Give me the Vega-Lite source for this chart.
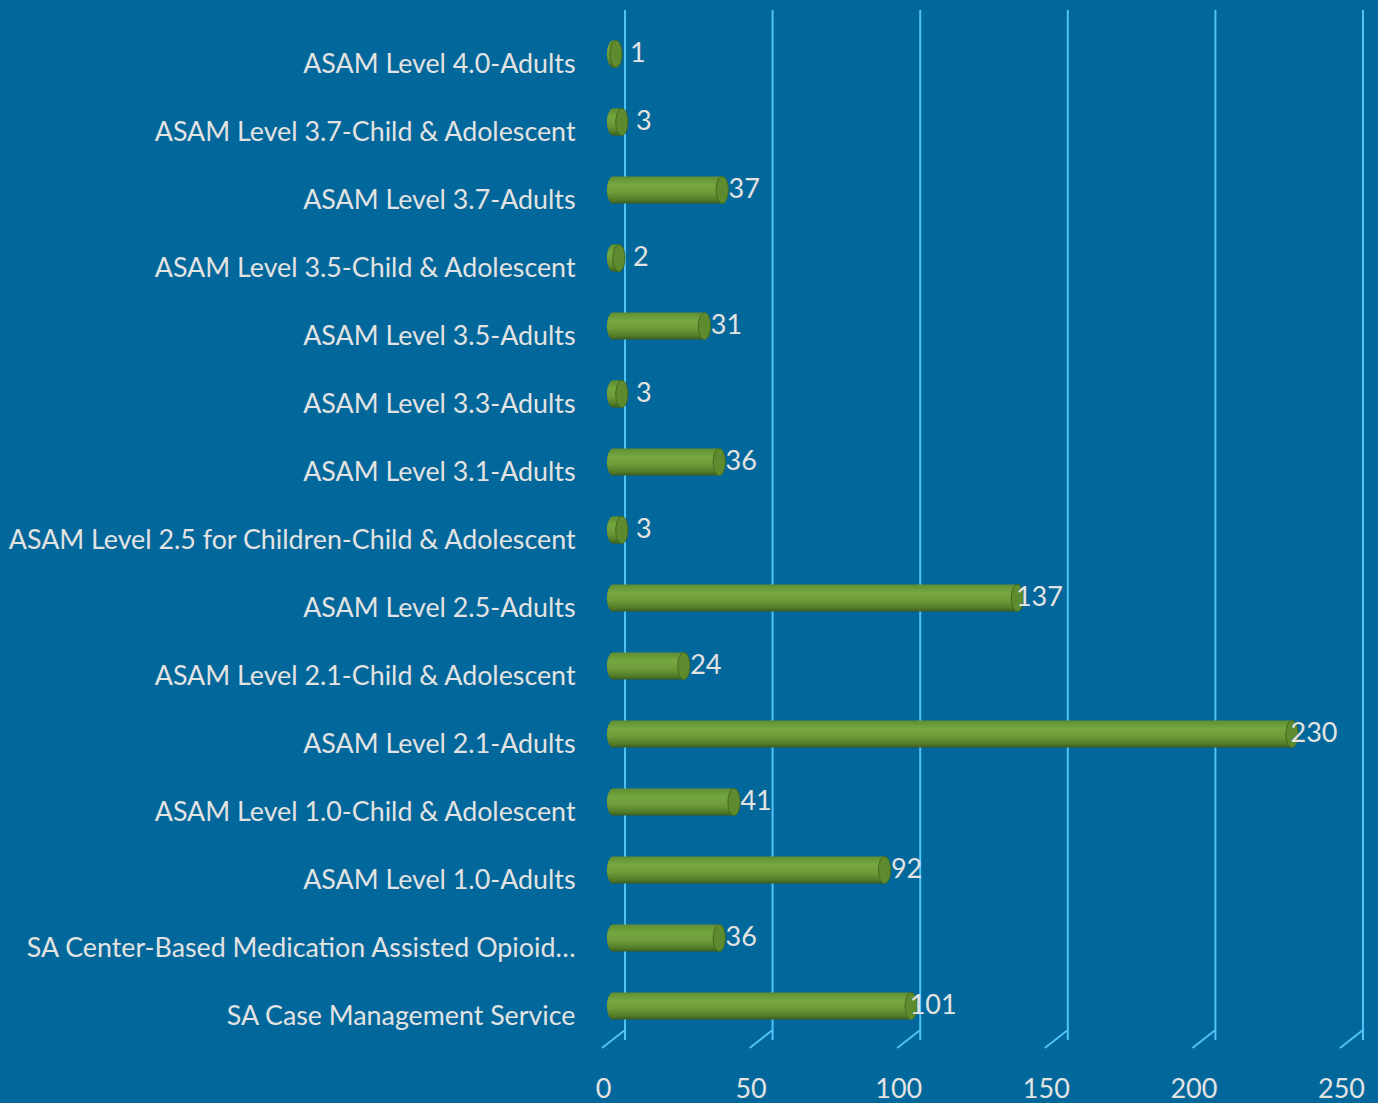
{
  "$schema": "https://vega.github.io/schema/vega-lite/v6.json",
  "autosize": "none",
  "width": 738,
  "height": 1020,
  "padding": {"left": 613, "top": 20, "right": 27, "bottom": 63},
  "background": "#02679a",
  "config": {
    "view": {"stroke": null},
    "font": "Lato"
  },
  "datasets": {
    "rows": [
      {"category": "ASAM Level 4.0-Adults", "value": 1},
      {"category": "ASAM Level 3.7-Child & Adolescent", "value": 3},
      {"category": "ASAM Level 3.7-Adults", "value": 37},
      {"category": "ASAM Level 3.5-Child & Adolescent", "value": 2},
      {"category": "ASAM Level 3.5-Adults", "value": 31},
      {"category": "ASAM Level 3.3-Adults", "value": 3},
      {"category": "ASAM Level 3.1-Adults", "value": 36},
      {"category": "ASAM Level 2.5 for Children-Child & Adolescent", "value": 3},
      {"category": "ASAM Level 2.5-Adults", "value": 137},
      {"category": "ASAM Level 2.1-Child & Adolescent", "value": 24},
      {"category": "ASAM Level 2.1-Adults", "value": 230},
      {"category": "ASAM Level 1.0-Child & Adolescent", "value": 41},
      {"category": "ASAM Level 1.0-Adults", "value": 92},
      {"category": "SA Center-Based Medication Assisted Opioid…", "value": 36},
      {"category": "SA Case Management Service", "value": 101}
    ],
    "ticks": [{"t": 0}, {"t": 50}, {"t": 100}, {"t": 150}, {"t": 200}, {"t": 250}]
  },
  "layer": [
    {
      "data": {"name": "ticks"},
      "mark": {"type": "rule", "color": "#4fc3f7", "strokeWidth": 2, "xOffset": 12, "yOffset": -10, "y2Offset": -10},
      "encoding": {
        "x": {"field": "t", "type": "quantitative", "scale": {"domain": [0, 250], "nice": false, "zero": true},
          "axis": {"values": [0, 50, 100, 150, 200, 250], "domain": false, "ticks": false, "grid": false, "title": null,
            "labelFont": "Lato", "labelFontSize": 27, "labelColor": "#e3e3e3", "labelPadding": 36, "labelOffset": -10, "labelFlush": false}}
      }
    },
    {
      "data": {"name": "ticks"},
      "mark": {"type": "rule", "color": "#4fc3f7", "strokeWidth": 2, "xOffset": 12, "x2Offset": -11, "yOffset": -10, "y2Offset": 8},
      "encoding": {
        "x": {"field": "t", "type": "quantitative"},
        "x2": {"field": "t"},
        "y": {"value": "height"},
        "y2": {"value": "height"}
      }
    },
    {
      "data": {"name": "rows"},
      "layer": [
        {
          "mark": {"type": "point", "filled": true, "opacity": 1, "size": 729,
            "shape": "M0,-1A0.45,1,0,1,1,0,1A0.45,1,0,1,1,0,-1Z",
            "fill": {"gradient": "linear", "x1": 0, "y1": 0, "x2": 0, "y2": 1,
              "stops": [{"offset": 0, "color": "#5f8d31"}, {"offset": 0.3, "color": "#76a641"}, {"offset": 0.6, "color": "#6d9b39"}, {"offset": 0.85, "color": "#557f2b"}, {"offset": 1, "color": "#3d5c1d"}]}},
          "encoding": {
            "x": {"datum": 0, "type": "quantitative"},
            "y": {"field": "category", "type": "nominal", "sort": null}
          }
        },
        {
          "mark": {"type": "bar",
            "fill": {"gradient": "linear", "x1": 0, "y1": 0, "x2": 0, "y2": 1,
              "stops": [{"offset": 0, "color": "#5f8d31"}, {"offset": 0.3, "color": "#76a641"}, {"offset": 0.6, "color": "#6d9b39"}, {"offset": 0.85, "color": "#557f2b"}, {"offset": 1, "color": "#3d5c1d"}]}},
          "encoding": {
            "x": {"field": "value", "type": "quantitative"},
            "y": {"field": "category", "type": "nominal", "sort": null,
              "scale": {"paddingInner": 0.6, "paddingOuter": 0.3},
              "axis": {"domain": false, "ticks": false, "grid": false, "title": null,
                "labelFont": "Lato", "labelFontSize": 26.8, "labelColor": "#e3e3e3", "labelPadding": 38, "labelOffset": 11, "labelLimit": 700}}
          }
        },
        {
          "mark": {"type": "point", "filled": true, "opacity": 1, "size": 729,
            "shape": "M0,-1A0.45,1,0,1,1,0,1A0.45,1,0,1,1,0,-1Z",
            "fill": "#5d8b2e", "stroke": "#46691f", "strokeWidth": 1},
          "encoding": {
            "x": {"field": "value", "type": "quantitative"},
            "y": {"field": "category", "type": "nominal", "sort": null}
          }
        },
        {
          "mark": {"type": "text", "align": "center", "baseline": "middle", "dx": 22, "dy": 0,
            "font": "Lato", "fontSize": 27, "color": "#e3e3e3"},
          "encoding": {
            "x": {"field": "value", "type": "quantitative"},
            "y": {"field": "category", "type": "nominal", "sort": null},
            "text": {"field": "value", "type": "quantitative"}
          }
        }
      ]
    }
  ]
}
